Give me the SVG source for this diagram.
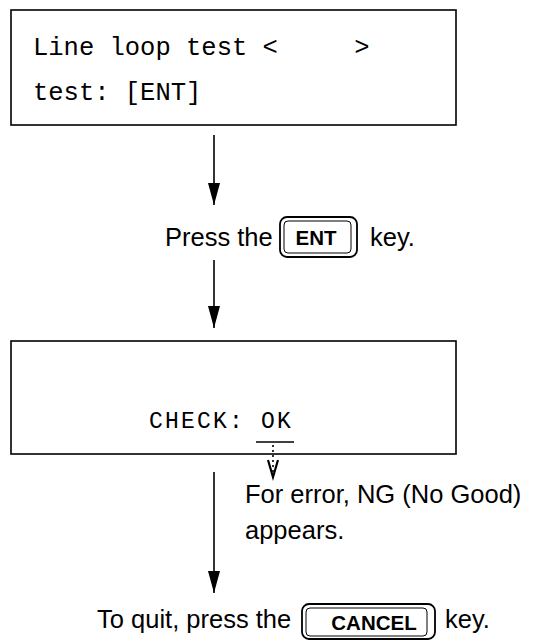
<svg xmlns="http://www.w3.org/2000/svg" width="539" height="641" viewBox="0 0 539 641">
<style>
.box{fill:none;stroke:#000;stroke-width:1.6}
.mono{font-family:"Liberation Mono","Courier New",monospace;fill:#000}
.sans{font-family:"Liberation Sans",Arial,sans-serif;fill:#000;font-size:25.5px}
.key{font-family:"Liberation Sans",Arial,sans-serif;font-weight:bold;fill:#000;text-anchor:middle;font-size:20.5px}
.ln{stroke:#000;stroke-width:1.6;fill:none}
.ko{fill:none;stroke:#000;stroke-width:1.8}
.ki{fill:none;stroke:#000;stroke-width:1}
</style>
<defs>
<marker id="ah" viewBox="0 0 22 12" refX="22" refY="6" markerWidth="22" markerHeight="12" markerUnits="userSpaceOnUse" orient="auto">
<path d="M0,0 L22,6 L0,12 Z" fill="#000"/>
</marker>
</defs>
<rect width="539" height="641" fill="#fff"/>
<g id="screen1">
<rect class="box" x="11" y="10" width="445" height="115"/>
<text class="mono" x="33" y="55" font-size="25.5" xml:space="preserve">Line loop test &lt;     &gt;</text>
<text class="mono" x="33" y="100" font-size="25.5" xml:space="preserve">test: [ENT]</text>
</g>
<g id="step-ent">
<text class="sans" x="165" y="246">Press the</text>
<rect class="ko" x="280" y="217" width="77" height="40" rx="7"/>
<rect class="ki" x="284" y="221" width="67" height="32" rx="4"/>
<text class="key" x="316" y="245">ENT</text>
<text class="sans" x="370" y="246">key.</text>
</g>
<g id="screen2">
<rect class="box" x="11" y="341" width="445" height="113"/>
<text class="mono" x="149" y="428" font-size="23" letter-spacing="2.2" xml:space="preserve">CHECK: OK</text>
<line class="ln" x1="256" y1="442" x2="294" y2="442"/>
</g>
<g id="note-ng">
<text class="sans" x="245" y="503">For error, NG (No Good)</text>
<text class="sans" x="245" y="539">appears.</text>
</g>
<g id="step-cancel">
<text class="sans" x="97" y="628">To quit, press the</text>
<rect class="ko" x="302" y="604" width="133" height="35" rx="7"/>
<rect class="ki" x="306" y="608" width="121" height="28" rx="4"/>
<text class="key" x="374" y="630">CANCEL</text>
<text class="sans" x="445" y="628">key.</text>
</g>
<g id="connectors">
<line class="ln" x1="214" y1="135" x2="214" y2="205" marker-end="url(#ah)"/>
<line class="ln" x1="214" y1="260" x2="214" y2="328" marker-end="url(#ah)"/>
<line class="ln" x1="214" y1="472" x2="214" y2="593" marker-end="url(#ah)"/>
<line x1="273" y1="445" x2="273" y2="474" stroke="#000" stroke-width="1.6" stroke-dasharray="2,3"/>
<path d="M268,460 L273,477 L278,460" fill="none" stroke="#000" stroke-width="2.2"/>
</g>
</svg>
